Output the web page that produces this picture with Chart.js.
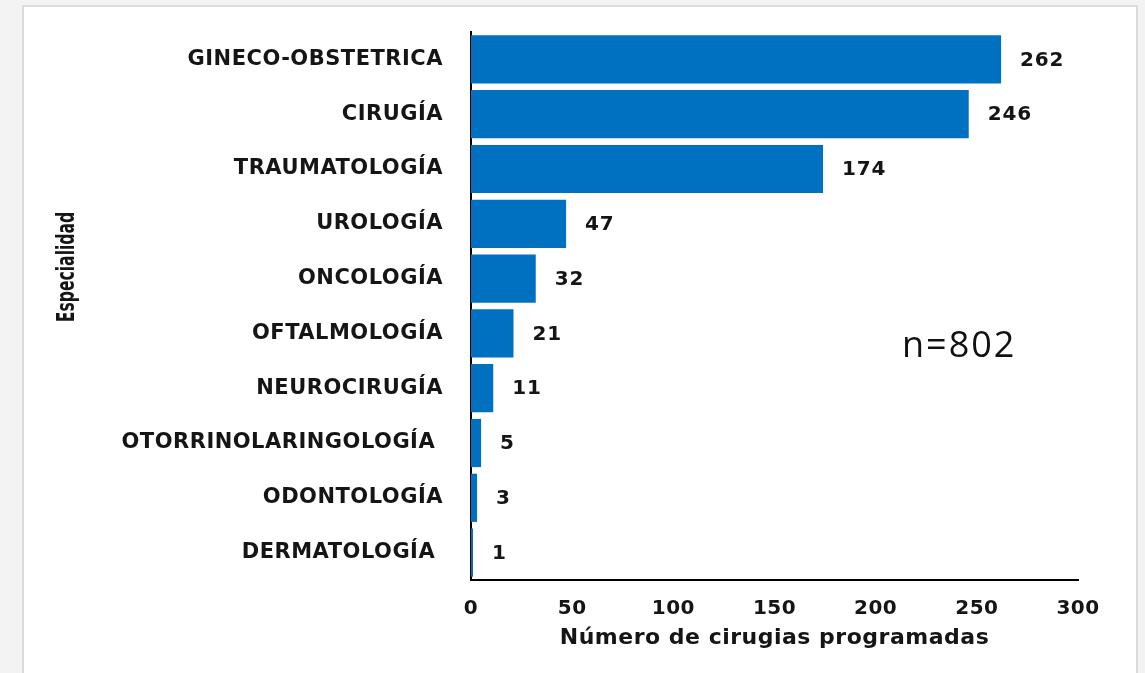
<!DOCTYPE html>
<html>
<head>
<meta charset="utf-8">
<script src="https://cdn.jsdelivr.net/npm/chart.js@4/dist/chart.umd.min.js"></script>
<style>
  html, body { margin: 0; padding: 0; background: #f3f3f3; overflow: hidden; }
  #panel {
    position: absolute; left: 22px; top: 5px; width: 1112px; height: 720px;
    background: #ffffff; border: 2px solid #dcdcdc;
  }
  #grafico { position: absolute; left: 0; top: 0; }
</style>
</head>
<body>
<div id="panel"></div>
<canvas id="grafico" width="1145" height="673"></canvas>
<script>
// Datos del gráfico
const especialidades = [
  "GINECO-OBSTETRICA",
  "CIRUGÍA",
  "TRAUMATOLOGÍA",
  "UROLOGÍA",
  "ONCOLOGÍA",
  "OFTALMOLOGÍA",
  "NEUROCIRUGÍA",
  "OTORRINOLARINGOLOGÍA ",
  "ODONTOLOGÍA",
  "DERMATOLOGÍA ",
];
const cirugias = [262, 246, 174, 47, 32, 21, 11, 5, 3, 1];
const ticksX = [0, 50, 100, 150, 200, 250, 300];
const totalTexto = "n=802";

const tinta = "#151515";
const azul = "#0070c0";

// Espaciado de letras (el original se ve ensanchado)
const espaciado = {
  id: "espaciado",
  beforeLayout(chart) { chart.ctx.letterSpacing = "0.5px"; },
  beforeDraw(chart) { chart.ctx.letterSpacing = "0.5px"; },
};

// Etiquetas de valor a la derecha de cada barra
const etiquetasValor = {
  id: "etiquetasValor",
  afterDatasetsDraw(chart) {
    const ctx = chart.ctx;
    const meta = chart.getDatasetMeta(0);
    ctx.save();
    ctx.letterSpacing = "0.8px";
    ctx.font = "bold 20px 'DejaVu Sans'";
    ctx.fillStyle = tinta;
    ctx.textAlign = "left";
    ctx.textBaseline = "middle";
    meta.data.forEach((bar, i) => {
      ctx.fillText(String(cirugias[i]), bar.x + 19, bar.y + 1);
    });
    ctx.restore();
  },
};

// Título del eje Y y texto n=802
const textosExtra = {
  id: "textosExtra",
  afterDraw(chart) {
    const ctx = chart.ctx;
    const area = chart.chartArea;
    ctx.save();
    ctx.letterSpacing = "0px";
    ctx.fillStyle = tinta;
    ctx.font = "bold 22px 'Liberation Sans Narrow', 'DejaVu Sans Condensed', sans-serif";
    ctx.textAlign = "center";
    ctx.textBaseline = "middle";
    ctx.translate(67, 267);
    ctx.rotate(-Math.PI / 2);
    ctx.scale(0.79, 1.15);
    ctx.fillText("Especialidad", 0, 0);
    ctx.restore();

    ctx.save();
    ctx.letterSpacing = "2px";
    ctx.fillStyle = "#111";
    ctx.font = "36px 'Open Sans', sans-serif";
    ctx.textAlign = "left";
    ctx.textBaseline = "middle";
    const x = chart.scales.x.getPixelForValue(213);
    const y = area.top + (area.bottom - area.top) * 0.575;
    ctx.fillText(totalTexto, x, y);
    ctx.restore();
  },
};

const ctx = document.getElementById("grafico").getContext("2d");
new Chart(ctx, {
  type: "bar",
  data: {
    labels: especialidades,
    datasets: [
      {
        label: "Número de cirugias programadas",
        data: cirugias,
        backgroundColor: azul,
        borderWidth: 0,
        categoryPercentage: 1,
        barPercentage: 0.88,
      },
    ],
  },
  options: {
    indexAxis: "y",
    responsive: false,
    animation: false,
    devicePixelRatio: 1,
    layout: { padding: { top: 32, right: 67, left: 0, bottom: 0 } },
    plugins: {
      legend: { display: false },
      tooltip: { enabled: false },
    },
    scales: {
      x: {
        min: 0,
        max: 300,
        afterBuildTicks(scale) {
          scale.ticks = ticksX.map((v) => ({ value: v }));
        },
        grid: { display: false },
        border: { display: true, color: "#000", width: 2 },
        ticks: {
          color: tinta,
          padding: 9,
          maxRotation: 0,
          font: { family: "'DejaVu Sans'", size: 20, weight: "bold" },
        },
        title: {
          display: true,
          text: "Número de cirugias programadas",
          color: tinta,
          font: { family: "'DejaVu Sans'", size: 22, weight: "bold" },
          padding: { top: 2, bottom: 22 },
        },
        afterFit(scale) { scale.height = 93; },
      },
      y: {
        grid: { display: false },
        border: { display: true, color: "#000", width: 2 },
        ticks: {
          color: tinta,
          padding: 20,
          font: { family: "'DejaVu Sans'", size: 21, weight: "bold" },
        },
        afterFit(scale) {
          scale.width = 471;
          scale.paddingTop = 0;
          scale.paddingBottom = 0;
        },
      },
    },
  },
  plugins: [espaciado, etiquetasValor, textosExtra],
});
</script>
</body>
</html>
